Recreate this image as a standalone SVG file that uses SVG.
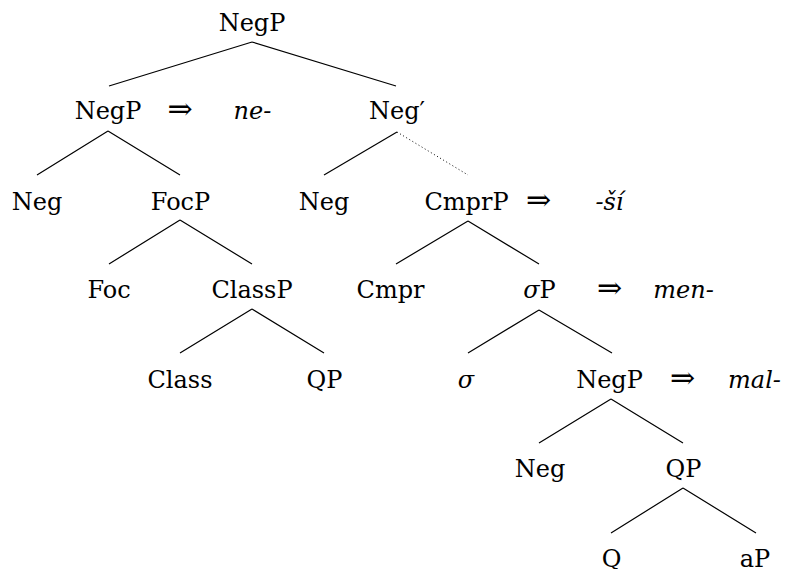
<svg xmlns="http://www.w3.org/2000/svg" width="785" height="569" viewBox="0 0 785 569">
  <rect width="785" height="569" fill="#fff"/>

  <!-- branches: solid lines, one dotted -->
  <g id="edges" stroke="#000" stroke-width="1.2" fill="none">
    <path d="M252 42 L109 86 M252 42 L396 86"/>
    <path d="M108 131 L37 175 M108 131 L180 175"/>
    <path d="M397 132 L324 175"/>
    <path d="M397 132 L468 175" stroke-width="1" stroke-dasharray="1 2.6"/>
    <path d="M180 220 L109 264 M180 220 L252 264"/>
    <path d="M468 221 L396 264 M468 221 L539 264"/>
    <path d="M252 309 L180 353 M252 309 L324 353"/>
    <path d="M539 310 L468 353 M539 310 L612 353"/>
    <path d="M611 399 L539 443 M611 399 L683 443"/>
    <path d="M683 488 L611 533 M683 488 L756 533"/>
  </g>

  <!-- node labels -->
  <g id="nodes" font-family="DejaVu Serif, Liberation Serif, serif" font-size="24" fill="#000" text-anchor="middle">
    <g id="n-root"><text font-family="DejaVu Serif, Liberation Serif, serif" x="252" y="31">NegP</text></g>

    <g id="n-negp1"><text font-family="DejaVu Serif, Liberation Serif, serif" x="108" y="119">NegP</text></g>
    <g id="n-negp1-spell"><text font-family="DejaVu Serif, Liberation Serif, serif" font-size="30" x="180" y="119">⇒</text><text font-family="DejaVu Serif, Liberation Serif, serif" font-style="italic" x="252.5" y="119">ne-</text></g>
    <g id="n-negbar"><text font-family="DejaVu Serif, Liberation Serif, serif" x="397" y="119">Neg′</text></g>

    <g id="n-neg1"><text font-family="DejaVu Serif, Liberation Serif, serif" x="37" y="210">Neg</text></g>
    <g id="n-focp"><text font-family="DejaVu Serif, Liberation Serif, serif" x="180.5" y="210">FocP</text></g>
    <g id="n-neg2"><text font-family="DejaVu Serif, Liberation Serif, serif" x="324" y="210">Neg</text></g>
    <g id="n-cmprp"><text font-family="DejaVu Serif, Liberation Serif, serif" x="466.5" y="210">CmprP</text></g>
    <g id="n-cmprp-spell"><text font-family="DejaVu Serif, Liberation Serif, serif" font-size="30" x="538.5" y="210">⇒</text><text font-family="DejaVu Serif, Liberation Serif, serif" font-style="italic" x="609.5" y="210">-ší</text></g>

    <g id="n-foc"><text font-family="DejaVu Serif, Liberation Serif, serif" x="109" y="298">Foc</text></g>
    <g id="n-classp"><text font-family="DejaVu Serif, Liberation Serif, serif" x="252" y="298">ClassP</text></g>
    <g id="n-cmpr"><text font-family="DejaVu Serif, Liberation Serif, serif" x="390.5" y="298">Cmpr</text></g>
    <g id="n-sigmap"><text font-family="DejaVu Serif, Liberation Serif, serif" x="539.5" y="298"><tspan font-style="italic">σ</tspan>P</text></g>
    <g id="n-sigmap-spell"><text font-family="DejaVu Serif, Liberation Serif, serif" font-size="30" x="609.5" y="298">⇒</text><text font-family="DejaVu Serif, Liberation Serif, serif" font-style="italic" x="683.5" y="298">men-</text></g>

    <g id="n-class"><text font-family="DejaVu Serif, Liberation Serif, serif" x="180" y="388">Class</text></g>
    <g id="n-qp1"><text font-family="DejaVu Serif, Liberation Serif, serif" x="324.5" y="388">QP</text></g>
    <g id="n-sigma"><text font-family="DejaVu Serif, Liberation Serif, serif" font-style="italic" x="466" y="388">σ</text></g>
    <g id="n-negp2"><text font-family="DejaVu Serif, Liberation Serif, serif" x="609.5" y="388">NegP</text></g>
    <g id="n-negp2-spell"><text font-family="DejaVu Serif, Liberation Serif, serif" font-size="30" x="682.5" y="388">⇒</text><text font-family="DejaVu Serif, Liberation Serif, serif" font-style="italic" x="754.5" y="388">mal-</text></g>

    <g id="n-neg3"><text font-family="DejaVu Serif, Liberation Serif, serif" x="540" y="477">Neg</text></g>
    <g id="n-qp2"><text font-family="DejaVu Serif, Liberation Serif, serif" x="683.5" y="477">QP</text></g>

    <g id="n-q"><text font-family="DejaVu Serif, Liberation Serif, serif" x="611.5" y="567">Q</text></g>
    <g id="n-ap"><text font-family="DejaVu Serif, Liberation Serif, serif" x="755" y="567">aP</text></g>
  </g>
</svg>
